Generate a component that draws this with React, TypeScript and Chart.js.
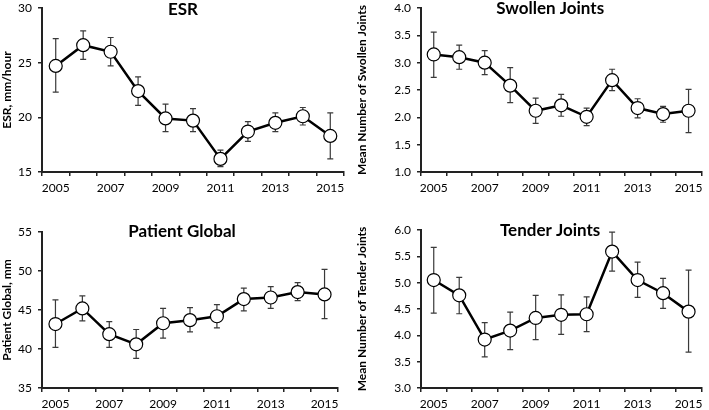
import React, { useEffect, useRef } from 'react';
import { Chart, registerables } from 'chart.js';

Chart.register(...registerables);

const years = ['2005', '2006', '2007', '2008', '2009', '2010', '2011', '2012', '2013', '2014', '2015'];

const esrMean = [24.7, 26.6, 26.0, 22.4, 19.9, 19.7, 16.2, 18.7, 19.5, 20.1, 18.3];
const esrLow = [22.3, 25.3, 24.7, 21.1, 18.7, 18.7, 15.5, 17.8, 18.7, 19.3, 16.2];
const esrHigh = [27.2, 27.9, 27.3, 23.7, 21.2, 20.8, 17.0, 19.6, 20.4, 20.9, 20.4];

const swollenMean = [3.15, 3.10, 3.00, 2.58, 2.12, 2.22, 2.01, 2.68, 2.17, 2.06, 2.12];
const swollenLow = [2.73, 2.88, 2.78, 2.27, 1.89, 2.02, 1.85, 2.49, 1.99, 1.91, 1.72];
const swollenHigh = [3.56, 3.32, 3.22, 2.91, 2.35, 2.42, 2.17, 2.88, 2.34, 2.20, 2.51];

const globalMean = [43.2, 45.2, 41.9, 40.6, 43.3, 43.7, 44.2, 46.4, 46.6, 47.3, 47.0];
const globalLow = [40.2, 43.6, 40.2, 38.8, 41.4, 42.2, 42.7, 44.9, 45.2, 46.2, 43.9];
const globalHigh = [46.3, 46.8, 43.5, 42.5, 45.2, 45.3, 45.7, 47.8, 48.0, 48.5, 50.2];

const tenderMean = [5.05, 4.76, 3.92, 4.09, 4.33, 4.39, 4.40, 5.59, 5.05, 4.80, 4.45];
const tenderLow = [4.42, 4.41, 3.59, 3.73, 3.92, 4.02, 4.07, 5.22, 4.72, 4.51, 3.68];
const tenderHigh = [5.67, 5.10, 4.24, 4.44, 4.76, 4.77, 4.73, 5.96, 5.39, 5.08, 5.24];

const FONT = 'Lato, "Open Sans", sans-serif';

const errorBarPlugin = {
  id: 'errorBars',
  beforeDatasetsDraw(chart: any) {
    const o = chart.options.plugins.errorBars;
    if (!o) return;
    const { ctx } = chart;
    const xs = chart.scales.x;
    const ys = chart.scales.y;
    ctx.save();
    ctx.strokeStyle = '#3a3a3a';
    ctx.lineWidth = 1.2;
    o.low.forEach((lo: number, i: number) => {
      const x = xs.getPixelForValue(i);
      const y1 = ys.getPixelForValue(lo);
      const y2 = ys.getPixelForValue(o.high[i]);
      ctx.beginPath();
      ctx.moveTo(x, y1);
      ctx.lineTo(x, y2);
      ctx.moveTo(x - 3, y1);
      ctx.lineTo(x + 3, y1);
      ctx.moveTo(x - 3, y2);
      ctx.lineTo(x + 3, y2);
      ctx.stroke();
    });
    ctx.restore();
  },
};

const panelTitlePlugin = {
  id: 'panelTitle',
  afterDraw(chart: any) {
    const o = chart.options.plugins.panelTitle;
    if (!o) return;
    const { ctx, chartArea } = chart;
    ctx.save();
    ctx.fillStyle = '#000';
    ctx.font = `bold 17px ${FONT}`;
    ctx.textAlign = 'center';
    ctx.textBaseline = 'middle';
    ctx.fillText(o.text, (chartArea.left + chartArea.right) / 2 + o.dx, chartArea.top + o.dy);
    ctx.restore();
  },
};

type PanelProps = {
  title: string;
  yTitle: string;
  mean: number[];
  low: number[];
  high: number[];
  yMin: number;
  yMax: number;
  yStep: number;
  decimals: number;
  yWidth: number;
  xHeight: number;
  pad: { top: number; right: number; left: number; bottom: number };
  titleDx: number;
  titleDy: number;
  left: number;
  top: number;
  width: number;
  height: number;
};

function Panel(p: PanelProps) {
  const ref = useRef<HTMLCanvasElement | null>(null);
  useEffect(() => {
    if (!ref.current) return;
    const chart = new Chart(ref.current, {
      type: 'line',
      data: {
        labels: years,
        datasets: [
          {
            data: p.mean,
            borderColor: '#000',
            borderWidth: 2.5,
            pointRadius: 6.5,
            pointBackgroundColor: '#fff',
            pointBorderColor: '#000',
            pointBorderWidth: 1.2,
            tension: 0,
          },
        ],
      },
      options: {
        animation: false,
        responsive: false,
        maintainAspectRatio: false,
        layout: { padding: p.pad },
        plugins: {
          legend: { display: false },
          tooltip: { enabled: false },
          title: { display: false },
          errorBars: { low: p.low, high: p.high },
          panelTitle: { text: p.title, dx: p.titleDx, dy: p.titleDy },
        } as any,
        scales: {
          x: {
            type: 'category',
            offset: true,
            grid: {
              display: true,
              offset: true,
              drawOnChartArea: false,
              drawTicks: true,
              tickLength: 4,
              color: '#222',
              lineWidth: 1.5,
            },
            border: { display: true, color: '#222', width: 2 },
            ticks: {
              autoSkip: false,
              maxRotation: 0,
              minRotation: 0,
              padding: 5,
              color: '#000',
              font: { family: FONT, size: 12 },
              callback: (_v: any, i: number) => (i % 2 === 0 ? years[i] : ''),
            },
            afterFit: (s: any) => {
              s.height = p.xHeight;
              s.paddingLeft = 0;
              s.paddingRight = 0;
            },
          },
          y: {
            min: p.yMin,
            max: p.yMax,
            grid: {
              display: true,
              drawOnChartArea: false,
              drawTicks: true,
              tickLength: 4,
              color: '#222',
              lineWidth: 1.5,
            },
            border: { display: true, color: '#222', width: 2 },
            ticks: {
              stepSize: p.yStep,
              padding: 6,
              color: '#000',
              font: { family: FONT, size: 12 },
              callback: (v: any) => Number(v).toFixed(p.decimals),
            },
            title: {
              display: true,
              text: p.yTitle,
              color: '#000',
              font: { family: FONT, size: 12, weight: 'bold' },
              padding: { top: 0, bottom: 0 },
            },
            afterFit: (s: any) => {
              s.width = p.yWidth;
              s.paddingTop = 0;
              s.paddingBottom = 0;
            },
          },
        },
      } as any,
      plugins: [errorBarPlugin, panelTitlePlugin],
    });
    return () => chart.destroy();
  }, []);
  return (
    <div style={{ position: 'absolute', left: p.left, top: p.top, width: p.width, height: p.height }}>
      <canvas ref={ref} width={p.width} height={p.height} style={{ width: p.width, height: p.height }} />
    </div>
  );
}

export default function App() {
  return (
    <div style={{ position: 'fixed', left: 0, top: 0, width: 709, height: 410, background: '#fff', overflow: 'hidden' }}>
      <Panel
        title="ESR"
        yTitle="ESR, mm/hour"
        mean={esrMean}
        low={esrLow}
        high={esrHigh}
        yMin={15}
        yMax={30}
        yStep={5}
        decimals={0}
        yWidth={42}
        xHeight={33}
        pad={{ top: 8, right: 11, left: 0, bottom: 0 }}
        titleDx={-10}
        titleDy={2}
        left={0}
        top={0}
        width={355}
        height={205}
      />
      <Panel
        title="Swollen Joints"
        yTitle="Mean Number of Swollen Joints"
        mean={swollenMean}
        low={swollenLow}
        high={swollenHigh}
        yMin={1}
        yMax={4}
        yStep={0.5}
        decimals={1}
        yWidth={66}
        xHeight={33}
        pad={{ top: 8, right: 1, left: 0, bottom: 0 }}
        titleDx={-11}
        titleDy={1}
        left={355}
        top={0}
        width={354}
        height={205}
      />
      <Panel
        title="Patient Global"
        yTitle="Patient Global, mm"
        mean={globalMean}
        low={globalLow}
        high={globalHigh}
        yMin={35}
        yMax={55}
        yStep={5}
        decimals={0}
        yWidth={42}
        xHeight={22}
        pad={{ top: 27, right: 17, left: 0, bottom: 0 }}
        titleDx={-8}
        titleDy={0}
        left={0}
        top={205}
        width={355}
        height={205}
      />
      <Panel
        title="Tender Joints"
        yTitle="Mean Number of Tender Joints"
        mean={tenderMean}
        low={tenderLow}
        high={tenderHigh}
        yMin={3}
        yMax={6}
        yStep={0.5}
        decimals={1}
        yWidth={66}
        xHeight={22}
        pad={{ top: 25, right: 1, left: 0, bottom: 0 }}
        titleDx={-11}
        titleDy={1}
        left={355}
        top={205}
        width={354}
        height={205}
      />
    </div>
  );
}
